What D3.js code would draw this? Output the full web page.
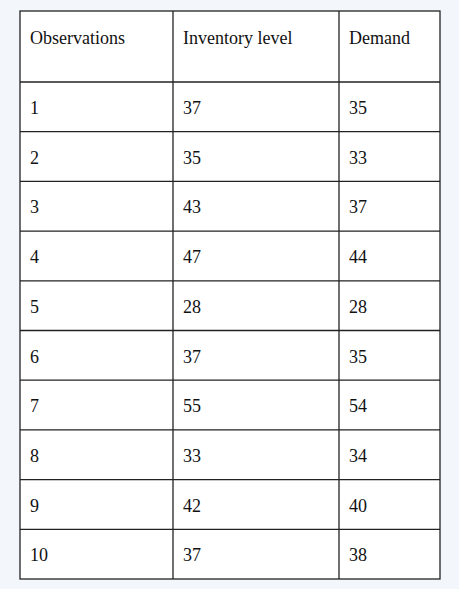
<!DOCTYPE html>
<html><head><meta charset="utf-8">
<script src="https://cdn.jsdelivr.net/npm/d3@7"></script>
<style>body{margin:0;background:#f3f6fa}</style></head>
<body><svg id="c" width="459" height="589"></svg>
<script>
const headers = ["Observations", "Inventory level", "Demand"];
const observations = [1, 2, 3, 4, 5, 6, 7, 8, 9, 10];
const inventory = [37, 35, 43, 47, 28, 37, 55, 33, 42, 37];
const demand = [35, 33, 37, 44, 28, 35, 54, 34, 40, 38];

const svg = d3.select("#c");
const colX = [20, 173, 339, 440];
const tableTop = 11, headH = 71, rowH = 49.7;
const rows = observations.map((o, i) => [o, inventory[i], demand[i]]);
const tableBottom = tableTop + headH + rowH * rows.length;

svg.append("rect").attr("x", colX[0]).attr("y", tableTop)
  .attr("width", colX[3] - colX[0]).attr("height", tableBottom - tableTop)
  .attr("fill", "#fff").attr("stroke", "#222").attr("stroke-width", 1.3);

colX.slice(1, 3).forEach(x => svg.append("line")
  .attr("x1", x).attr("x2", x).attr("y1", tableTop).attr("y2", tableBottom)
  .attr("stroke", "#222").attr("stroke-width", 1.3));

d3.range(rows.length).forEach(i => {
  const y = tableTop + headH + rowH * i;
  svg.append("line").attr("x1", colX[0]).attr("x2", colX[3])
    .attr("y1", y).attr("y2", y).attr("stroke", "#222").attr("stroke-width", 1.3);
});

const font = "'Liberation Serif', 'Times New Roman', serif";
headers.forEach((h, j) => svg.append("text")
  .attr("x", colX[j] + 10).attr("y", tableTop + 33)
  .attr("font-family", font).attr("font-size", 18).attr("fill", "#111").text(h));

rows.forEach((r, i) => r.forEach((v, j) => svg.append("text")
  .attr("x", colX[j] + 10).attr("y", tableTop + headH + rowH * i + 32)
  .attr("font-family", font).attr("font-size", 18).attr("fill", "#111").text(v)));
</script></body></html>
